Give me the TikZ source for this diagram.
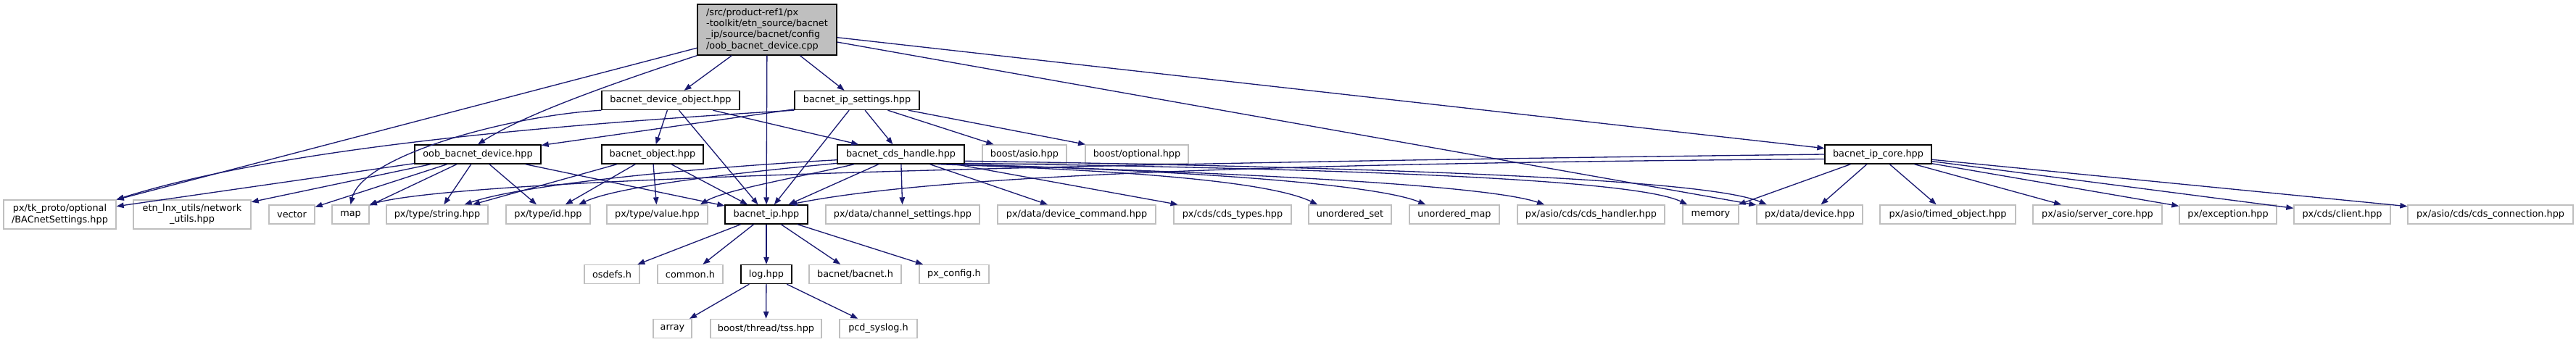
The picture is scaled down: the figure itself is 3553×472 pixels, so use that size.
\documentclass[tikz,border=0pt]{standalone}
\usepackage{fontspec}
\setmainfont{DejaVu Sans}
\usepackage{tikz}
\usetikzlibrary{arrows.meta, calc, positioning}
\definecolor{Navy}     {HTML}{191970}
\definecolor{SrcFill}  {HTML}{BFBFBF}
\definecolor{ExtLine}  {HTML}{BFBFBF}
\definecolor{Ink}      {HTML}{000000}

\begin{document}
\begin{tikzpicture}[x=0.02cm, y=-0.02cm,
    font=\fontsize{7.3}{8.6}\selectfont,
    box/.style={rectangle, inner sep=0pt, minimum height=0.52cm, text=Ink},
    srcbox/.style={box, draw=black, fill=SrcFill, line width=0.8pt, align=left},
    hdrbox/.style={box, draw=black, fill=white, line width=0.8pt},
    extbox/.style={box, draw=ExtLine, fill=white, line width=0.8pt, align=center},
    dep/.style={draw=Navy, line width=0.75pt, -{Triangle[length=0.2cm, width=0.15cm]}}]
  \useasboundingbox (0,0) rectangle (3553,472);
  % Source file
  \node[srcbox, minimum width=3.84cm, minimum height=1.40cm] (main) at (1058,41)
    {/src/product-ref1/px\\-toolkit/etn\_source/bacnet\\\_ip/source/bacnet/config\\/oob\_bacnet\_device.cpp};
  % Level 1
  \node[hdrbox, minimum width=3.80cm] (devobj) at (925,138.5) {bacnet\_device\_object.hpp};
  \node[hdrbox, minimum width=3.44cm] (ipset)  at (1182,138.5) {bacnet\_ip\_settings.hpp};
  % Level 2
  \node[hdrbox, minimum width=3.48cm] (oobdev) at (659,213)  {oob\_bacnet\_device.hpp};
  \node[hdrbox, minimum width=2.80cm] (bobj)   at (900,213)  {bacnet\_object.hpp};
  \node[hdrbox, minimum width=3.50cm] (cdsh)   at (1242.5,213) {bacnet\_cds\_handle.hpp};
  \node[extbox, minimum width=2.32cm] (basio)  at (1413,213) {boost/asio.hpp};
  \node[extbox, minimum width=2.84cm] (bopt)   at (1568,213) {boost/optional.hpp};
  \node[hdrbox, minimum width=2.94cm] (ipcore) at (2590.5,213) {bacnet\_ip\_core.hpp};
  % Level 3
  \node[extbox, minimum width=3.10cm, minimum height=0.80cm] (settingsopt) at (82.5,296)
    {px/tk\_proto/optional\\/BACnetSettings.hpp};
  \node[extbox, minimum width=3.24cm, minimum height=0.80cm] (netutils) at (265,296)
    {etn\_lnx\_utils/network\\\_utils.hpp};
  \node[extbox, minimum width=1.26cm] (vector)     at (402.5,296) {vector};
  \node[extbox, minimum width=1.02cm] (map)        at (483.5,296) {map};
  \node[extbox, minimum width=2.80cm] (string)     at (603,296)   {px/type/string.hpp};
  \node[extbox, minimum width=2.32cm] (id)         at (756,296)   {px/type/id.hpp};
  \node[extbox, minimum width=2.78cm] (value)      at (906.5,296) {px/type/value.hpp};
  \node[hdrbox, minimum width=2.28cm] (ip)         at (1057,296)  {bacnet\_ip.hpp};
  \node[extbox, minimum width=4.24cm] (chset)      at (1245,296)  {px/data/channel\_settings.hpp};
  \node[extbox, minimum width=4.36cm] (devcmd)     at (1485,296)  {px/data/device\_command.hpp};
  \node[extbox, minimum width=3.24cm] (cdstypes)   at (1700,296)  {px/cds/cds\_types.hpp};
  \node[extbox, minimum width=2.28cm] (uset)       at (1862,296)  {unordered\_set};
  \node[extbox, minimum width=2.48cm] (umap)       at (2006,296)  {unordered\_map};
  \node[extbox, minimum width=4.06cm] (cdshandler) at (2194.5,296) {px/asio/cds/cds\_handler.hpp};
  \node[extbox, minimum width=1.54cm] (memory)     at (2359.5,296) {memory};
  \node[extbox, minimum width=2.92cm] (datadev)    at (2496,296)  {px/data/device.hpp};
  \node[extbox, minimum width=3.74cm] (timed)      at (2686.5,296) {px/asio/timed\_object.hpp};
  \node[extbox, minimum width=3.56cm] (servercore) at (2893,296)  {px/asio/server\_core.hpp};
  \node[extbox, minimum width=2.68cm] (exception)  at (3073,296)  {px/exception.hpp};
  \node[extbox, minimum width=2.66cm] (client)     at (3230.5,296) {px/cds/client.hpp};
  \node[extbox, minimum width=4.56cm] (cdsconn)    at (3435,296)  {px/asio/cds/cds\_connection.hpp};
  % Level 4
  \node[extbox, minimum width=1.52cm] (osdefs)   at (844,378.5)    {osdefs.h};
  \node[extbox, minimum width=1.80cm] (common)   at (952,378.5)    {common.h};
  \node[hdrbox, minimum width=1.40cm] (log)      at (1057,378.5)   {log.hpp};
  \node[extbox, minimum width=2.54cm] (bacneth)  at (1179.5,378.5) {bacnet/bacnet.h};
  \node[extbox, minimum width=1.92cm] (pxconfig) at (1316,378.5)   {px\_config.h};
  % Level 5
  \node[extbox, minimum width=1.06cm] (array)  at (927.5,453.5)  {array};
  \node[extbox, minimum width=3.06cm] (tss)    at (1056.5,453.5) {boost/thread/tss.hpp};
  \node[extbox, minimum width=2.14cm] (syslog) at (1211.5,453.5) {pcd\_syslog.h};
  % Straight includes
  \foreach \nd in {settingsopt, devobj, ip, ipset, datadev, ipcore}
    \draw[dep] (main) -- (\nd);
  \foreach \nd in {bobj, ip, cdsh}
    \draw[dep] (devobj) -- (\nd);
  \foreach \nd in {oobdev, cdsh, ip, basio, bopt}
    \draw[dep] (ipset) -- (\nd);
  \foreach \nd in {settingsopt, netutils, vector, map, string, id, ip}
    \draw[dep] (oobdev) -- (\nd);
  \foreach \nd in {string, id, value, ip}
    \draw[dep] (bobj) -- (\nd);
  \foreach \nd in {ip, chset, devcmd, cdstypes}
    \draw[dep] (cdsh) -- (\nd);
  \foreach \nd in {memory, datadev, timed, servercore, exception, client, cdsconn}
    \draw[dep] (ipcore) -- (\nd);
  \foreach \nd in {osdefs, common, log, bacneth, pxconfig}
    \draw[dep] (ip) -- (\nd);
  \foreach \nd in {array, tss, syslog}
    \draw[dep] (log) -- (\nd);
  % Curved includes
  \draw[dep] (main.south west) .. controls (830,120) and (720,160) .. (oobdev.north);
  \draw[dep] (devobj.south west) .. controls (700,160) and (500,215) .. (map.north);
  \draw[dep] (ipset.south west) .. controls (800,170) and (400,200) .. (settingsopt.north east);
  \draw[dep] (cdsh.185) .. controls (950,232) and (720,255) .. (string.20);
  \draw[dep] (cdsh.188) .. controls (1000,240) and (850,258) .. (id.18);
  \draw[dep] (cdsh.192) .. controls (1100,245) and (1000,262) .. (value.13);
  \draw[dep] (cdsh.345) .. controls (1550,235) and (1750,250) .. (uset.163);
  \draw[dep] (cdsh.348) .. controls (1650,235) and (1900,255) .. (umap.161);
  \draw[dep] (cdsh.350) .. controls (1700,238) and (2050,255) .. (cdshandler.168);
  \draw[dep] (cdsh.352) .. controls (1800,232) and (2250,245) .. (memory.157);
  \draw[dep] (cdsh.354) .. controls (1850,230) and (2350,245) .. (datadev.167);
  \draw[dep] (ipcore.west) .. controls (1500,225) and (650,245) .. (map.north east);
  \draw[dep] (ipcore.185) .. controls (1800,225) and (1300,240) .. (ip.23);
\end{tikzpicture}
\end{document}
